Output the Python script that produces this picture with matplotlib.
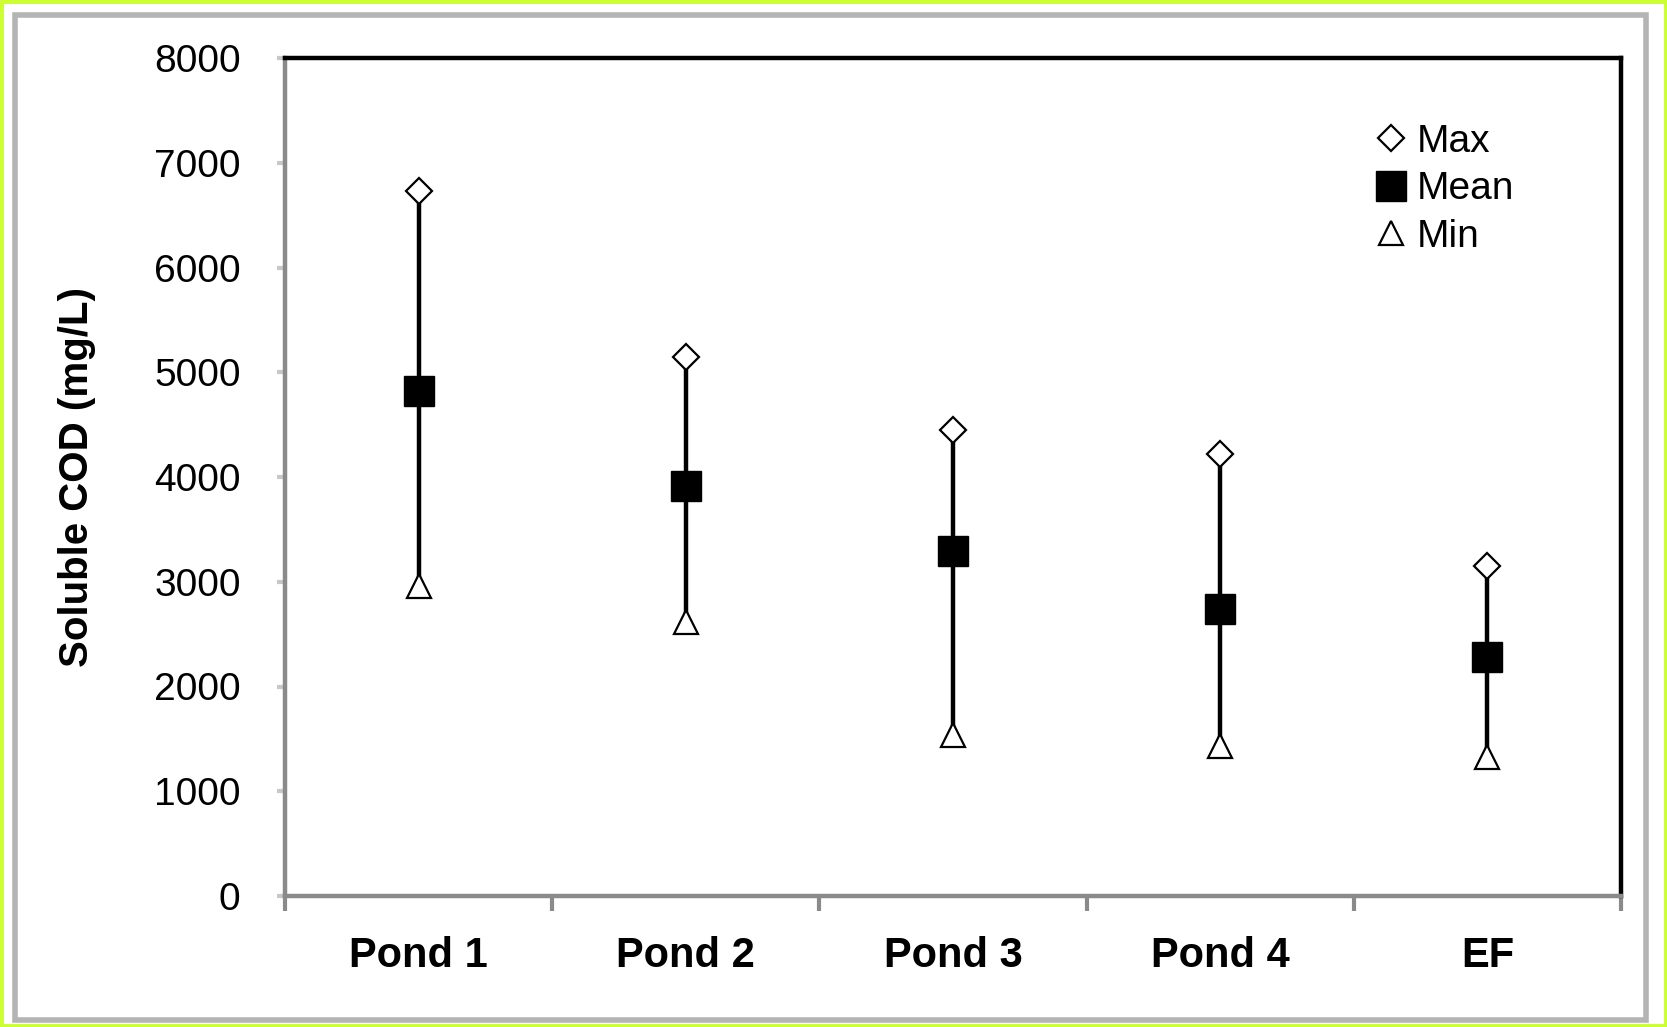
import matplotlib
matplotlib.use("Agg")
import matplotlib.pyplot as plt
from matplotlib.patches import Rectangle

plt.rcParams['font.family'] = ['Liberation Sans', 'DejaVu Sans']

# soluble COD per sampling point (mg/L)
sites = ['Pond 1', 'Pond 2', 'Pond 3', 'Pond 4', 'EF']
cod_max = [6730, 5150, 4450, 4220, 3150]
cod_mean = [4820, 3910, 3290, 2740, 2280]
cod_min = [2960, 2620, 1540, 1430, 1330]

fig = plt.figure(figsize=(16.67, 10.27), dpi=100)

# outer frame: bright border plus grey inner box
fig.patches.append(Rectangle((0, 0), 1, 1, transform=fig.transFigure,
                             fill=False, edgecolor='#ccff33', linewidth=5))
fig.patches.append(Rectangle((15 / 1667, 7 / 1027), 1631 / 1667, 1005 / 1027,
                             transform=fig.transFigure, fill=False,
                             edgecolor='#b4b4b4', linewidth=4))

ax = fig.add_axes([285 / 1667, 131 / 1027, 1336 / 1667, 838 / 1027])

x = list(range(len(sites)))
ax.vlines(x, cod_min, cod_max, color='black', linewidth=3.2, zorder=2)
ax.plot(x, cod_max, linestyle='none', marker='D', markersize=13,
        markerfacecolor='white', markeredgecolor='black', markeredgewidth=1.6,
        label='Max', zorder=3)
ax.plot(x, cod_mean, linestyle='none', marker='s', markersize=21,
        markerfacecolor='black', markeredgecolor='black',
        label='Mean', zorder=3)
ax.plot(x, cod_min, linestyle='none', marker='^', markersize=17,
        markerfacecolor='white', markeredgecolor='black', markeredgewidth=1.6,
        label='Min', zorder=3)

ax.set_xlim(-0.5, len(sites) - 0.5)
ax.set_ylim(0, 8000)
ax.set_yticks(range(0, 8001, 1000))
ax.set_xticks(x)
ax.set_xticklabels(sites, fontsize=30, fontweight='bold')
ax.set_xticks([i - 0.5 for i in range(len(sites) + 1)], minor=True)
ax.tick_params(axis='x', which='major', length=0, pad=29)
ax.tick_params(axis='x', which='minor', length=11, width=3, color='#8a8a8a')
ax.tick_params(axis='y', labelsize=28, length=6, width=3, color='#c8c8c8', pad=26)

ax.set_ylabel('Soluble COD (mg/L)', fontsize=29, fontweight='bold', labelpad=42)

for side in ('left', 'bottom'):
    ax.spines[side].set_color('#8a8a8a')
    ax.spines[side].set_linewidth(3.2)
for side in ('top', 'right'):
    ax.spines[side].set_color('black')
    ax.spines[side].set_linewidth(3.2)

ax.legend(loc='upper left', bbox_to_anchor=(0.8, 0.945), frameon=False,
          fontsize=28, handlelength=0.9, handletextpad=0.22,
          labelspacing=0.3, borderpad=0, markerscale=1.0)

fig.savefig('out.png', dpi=100, facecolor='white')
